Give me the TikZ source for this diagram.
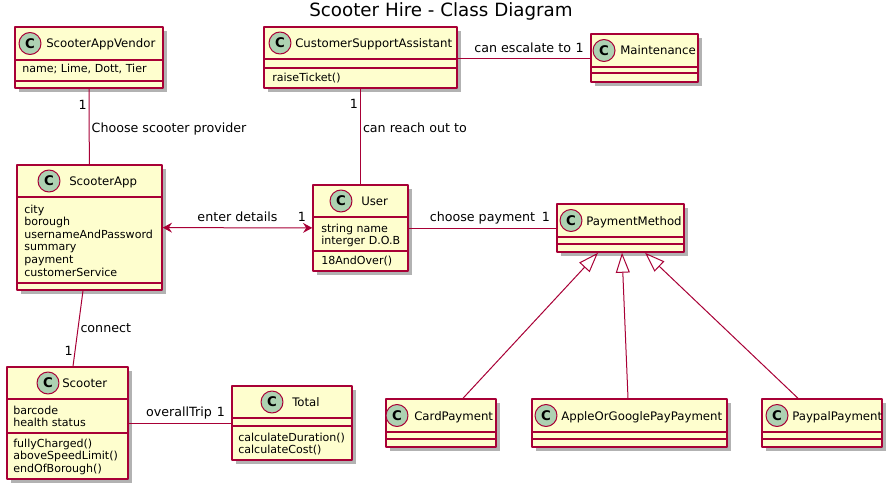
\documentclass[tikz,border=0pt]{standalone}
\usepackage{fontspec}
\setmainfont{DejaVu Sans}
\usetikzlibrary{arrows.meta,calc,fit,shadows}

\definecolor{umlred}{HTML}{A80036}
\definecolor{umlfill}{HTML}{FEFECE}
\definecolor{umlbadge}{HTML}{ADD1B2}

\begin{document}
\begin{tikzpicture}[x=0.75pt, y=-0.75pt, line join=round,
  >={Stealth[length=7pt,width=7.5pt,inset=2.5pt]},
  classbox/.style={rectangle, inner sep=0pt, draw=umlred, fill=umlfill, line width=1.1pt,
    drop shadow={shadow xshift=3pt, shadow yshift=-3pt, fill=black, opacity=.3}},
  sepline/.style={draw=umlred, line width=1.1pt},
  badge/.style={circle, draw=umlred, fill=umlbadge, line width=.75pt, minimum size=16.5pt,
    inner sep=0pt, font=\fontsize{10}{12}\selectfont\bfseries},
  cname/.style={anchor=base west, inner sep=0pt, font=\fontsize{8.8}{11}\selectfont},
  attr/.style={anchor=base west, inner sep=0pt, font=\fontsize{8.3}{10}\selectfont},
  assoc/.style={draw=umlred, line width=.75pt},
  isa/.style={assoc, -{Triangle[open, length=15pt, width=10.5pt]}},
  lbl/.style={font=\fontsize{9.5}{11}\selectfont, text depth=0pt, inner sep=1.5pt}]
  \useasboundingbox (0,0) rectangle (895,492);

  \node[font=\fontsize{13.7}{16}\selectfont, inner sep=0pt] (title) at (441,11) {Scooter Hire - Class Diagram};

  % classes
  \node[classbox, fit={(15,27) (163,88)}] (vendor) {};
  \draw[sepline] (15,60) -- (163,60) (15,81) -- (163,81);
  \node[badge] (vendorC) at (30,43.5) {C};
  \node[cname] (vendorname) at (46,48) {ScooterAppVendor};
  \node[attr] (vendorattr) at (22,73) {name; Lime, Dott, Tier};

  \node[classbox, fit={(264,27) (457,88)}] (csa) {};
  \draw[sepline] (264,59) -- (457,59) (264,68) -- (457,68);
  \node[badge] (csaC) at (280,43) {C};
  \node[cname] (csaname) at (295,47.5) {CustomerSupportAssistant};
  \node[attr] (csaop) at (272,82) {raiseTicket()};

  \node[classbox, fit={(591,34) (698,82)}] (maint) {};
  \draw[sepline] (591,67) -- (698,67) (591,73) -- (698,73);
  \node[badge] (maintC) at (604,50.5) {C};
  \node[cname] (maintname) at (620,55) {Maintenance};

  \node[classbox, fit={(17,165) (162,290)}] (sapp) {};
  \draw[sepline] (17,197) -- (162,197) (17,283) -- (162,283);
  \node[badge] (sappC) at (49,181) {C};
  \node[cname] (sappname) at (69,185.5) {ScooterApp};
  \foreach \t [count=\i from 0] in {city,borough,usernameAndPassword,summary,payment,customerService}
    \node[attr] (sappattr\i) at (24,213+12.6*\i) {\t};

  \node[classbox, fit={(313,185) (408,271)}] (user) {};
  \draw[sepline] (313,217) -- (408,217) (313,251) -- (408,251);
  \node[badge] (userC) at (341,201) {C};
  \node[cname] (username) at (361,205.5) {User};
  \foreach \t [count=\i from 0] in {string name,interger D.O.B}
    \node[attr] (userattr\i) at (321,232+12.6*\i) {\t};
  \node[attr] (userop) at (321,264) {18AndOver()};

  \node[classbox, fit={(557,204) (684,252)}] (pm) {};
  \draw[sepline] (557,237) -- (684,237) (557,244) -- (684,244);
  \node[badge] (pmC) at (571,220.5) {C};
  \node[cname] (pmname) at (586,225) {PaymentMethod};

  \node[classbox, fit={(7,367) (128,479)}] (scooter) {};
  \draw[sepline] (7,399) -- (128,399) (7,433) -- (128,433);
  \node[badge] (scooterC) at (48,383) {C};
  \node[cname] (scootername) at (62,387.5) {Scooter};
  \foreach \t [count=\i from 0] in {barcode,health status}
    \node[attr] (scooterattr\i) at (13,414+12.6*\i) {\t};
  \foreach \t [count=\i from 0] in {fullyCharged(),aboveSpeedLimit(),endOfBorough()}
    \node[attr] (scooterop\i) at (13,447+12.6*\i) {\t};

  \node[classbox, fit={(232,386) (352,460)}] (total) {};
  \draw[sepline] (232,418) -- (352,418) (232,426) -- (352,426);
  \node[badge] (totalC) at (272,402) {C};
  \node[cname] (totalname) at (292,406.5) {Total};
  \foreach \t [count=\i from 0] in {calculateDuration(),calculateCost()}
    \node[attr] (totalop\i) at (238,441+12.3*\i) {\t};

  \node[classbox, fit={(386,399) (496,447)}] (card) {};
  \draw[sepline] (386,432) -- (496,432) (386,439) -- (496,439);
  \node[badge] (cardC) at (397,415.5) {C};
  \node[cname] (cardname) at (414,420) {CardPayment};

  \node[classbox, fit={(532,399) (727,447)}] (apple) {};
  \draw[sepline] (532,432) -- (727,432) (532,439) -- (727,439);
  \node[badge] (appleC) at (546,415.5) {C};
  \node[cname] (applename) at (561,420) {AppleOrGooglePayPayment};

  \node[classbox, fit={(762,399) (882,447)}] (paypal) {};
  \draw[sepline] (762,432) -- (882,432) (762,439) -- (882,439);
  \node[badge] (paypalC) at (777,415.5) {C};
  \node[cname] (paypalname) at (792,420) {PaypalPayment};

  % associations
  \draw[assoc] (vendor) -- node[lbl, pos=.21, left] (vendormult) {1}
    node[lbl, pos=.52, right] (vendorlbl) {Choose scooter provider} (sapp);
  \draw[assoc] (csa) -- node[lbl, pos=.16, left] (csamult) {1}
    node[lbl, pos=.41, right] (csalbl) {can reach out to} (user);
  \draw[assoc] (csa.east |- 0,59) -- node[lbl, pos=.49, above=3pt] (maintlbl) {can escalate to}
    node[lbl, pos=.92, above=3pt] (maintmult) {1} (maint.west |- 0,59);
  \draw[assoc, <->] (sapp) -- node[lbl, pos=.5, above=3pt] (userlbl) {enter details}
    node[lbl, pos=.93, above=3pt] (usermult) {1} (user);
  \draw[assoc] (user) -- node[lbl, pos=.5, above=3pt] (pmlbl) {choose payment}
    node[lbl, pos=.93, above=3pt] (pmmult) {1} (pm);
  \draw[assoc] ($(sapp.south)+(-6.5,0)$) -- node[lbl, pos=.5, right] (connlbl) {connect}
    node[lbl, pos=.79, left] (connmult) {1} ($(scooter.north)+(5.5,0)$);
  \draw[assoc] (scooter) -- node[lbl, pos=.49, above=3pt] (triplbl) {overallTrip}
    node[lbl, pos=.9, above=3pt] (tripmult) {1} (total);

  % generalisation
  \draw[isa] ($(card.north)+(22,0)$) -- ($(pm.south)+(-22.5,0)$);
  \draw[isa] ($(apple.north)+(-1.5,0)$) -- ($(pm.south)+(1.5,0)$);
  \draw[isa] ($(paypal.north)+(-24,0)$) -- ($(pm.south)+(24.5,0)$);
\end{tikzpicture}
\end{document}
